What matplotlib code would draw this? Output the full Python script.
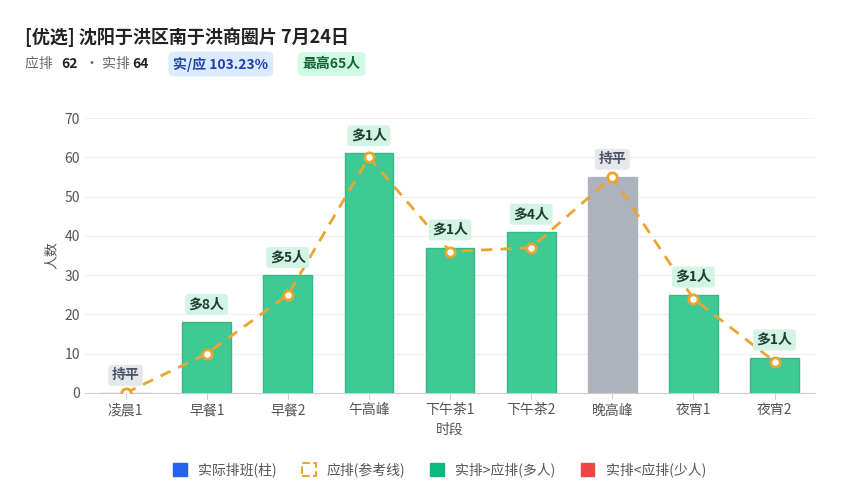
import matplotlib.pyplot as plt
from matplotlib.patches import Patch, FancyBboxPatch

plt.rcParams['font.family'] = ['Noto Sans CJK SC', 'DejaVu Sans']

categories = ['凌晨1', '早餐1', '早餐2', '午高峰', '下午茶1', '下午茶2', '晚高峰', '夜宵1', '夜宵2']
actual = [0, 18, 30, 61, 37, 41, 55, 25, 9]
expected = [0, 10, 25, 60, 36, 37, 55, 24, 8]

GREEN = '#3fc995'
GREY = '#adb3bd'
ORANGE = '#e8a530'

fig = plt.figure(figsize=(8.45, 5), dpi=100)
ax = fig.add_axes([0.1006, 0.214, 0.864, 0.55])

x = list(range(len(categories)))
colors = []
labels = []
for a, e in zip(actual, expected):
    d = a - e
    if d > 0:
        colors.append(GREEN); labels.append(f'多{d}人')
    elif d < 0:
        colors.append('#e84545'); labels.append(f'少{-d}人')
    else:
        colors.append(GREY); labels.append('持平')

bars = ax.bar(x, actual, width=0.6, color=colors, edgecolor=[c if c != GREEN else '#35b886' for c in colors], linewidth=1, zorder=2)
ax.plot(x, expected, color=ORANGE, linestyle=(0, (4, 3)), linewidth=2, zorder=3)
ax.scatter(x, expected, s=45, facecolor='white', edgecolor=ORANGE, linewidth=2, zorder=4)

for xi, a, e, lab in zip(x, actual, expected, labels):
    top = max(a, e)
    flat = lab == '持平'
    ax.text(xi, top + 4.5, lab, ha='center', va='center', fontsize=10, fontweight='bold',
            color='#4b5563' if flat else '#1f3d2f', zorder=5,
            bbox=dict(boxstyle='round,pad=0.25', fc='#e5e7eb' if flat else '#d3f3e4', ec='none'))

ax.set_xlim(-0.5, len(categories) - 0.5)
ax.set_ylim(0, 70)
ax.set_yticks(range(0, 71, 10))
ax.set_xticks(x)
ax.set_xticklabels(categories)
ax.tick_params(colors='#555555', labelsize=10, length=0)
ax.tick_params(axis='x', length=4, color='#cccccc')
ax.grid(axis='y', color='#eeeeee', zorder=0)
for s in ['top', 'right', 'left']:
    ax.spines[s].set_visible(False)
ax.spines['bottom'].set_color('#cccccc')
ax.set_xlabel('时段', color='#555555', fontsize=10)
ax.set_ylabel('人数', color='#555555', fontsize=10)

fig.text(0.03, 0.925, '[优选] 沈阳于洪区南于洪商圈片 7月24日', fontsize=13, fontweight='bold', color='#222222', va='center')
fig.text(0.03, 0.872, '应排 ', fontsize=10, color='#666666', va='center')
fig.text(0.072, 0.872, '62', fontsize=10, fontweight='bold', color='#222222', va='center')
fig.text(0.101, 0.872, '· 实排 ', fontsize=10, color='#666666', va='center')
fig.text(0.156, 0.872, '64', fontsize=10, fontweight='bold', color='#222222', va='center')
fig.text(0.205, 0.872, '实/应 103.23%', fontsize=10, fontweight='bold', color='#1e40af', va='center',
         bbox=dict(boxstyle='round,pad=0.35', fc='#dbeafe', ec='none'))
fig.text(0.358, 0.872, '最高65人', fontsize=10, fontweight='bold', color='#166534', va='center',
         bbox=dict(boxstyle='round,pad=0.35', fc='#d1fae5', ec='none'))

handles = [
    Patch(facecolor='#2563eb', edgecolor='#2563eb', label='实际排班(柱)'),
    Patch(facecolor='white', edgecolor=ORANGE, linestyle='--', linewidth=1.5, label='应排(参考线)'),
    Patch(facecolor='#10b981', edgecolor='#10b981', label='实排>应排(多人)'),
    Patch(facecolor='#ef4444', edgecolor='#ef4444', label='实排<应排(少人)'),
]
fig.legend(handles=handles, loc='center', bbox_to_anchor=(0.52, 0.06), ncol=4, frameon=False,
           fontsize=10, handlelength=1, handleheight=1, columnspacing=1.8, labelcolor='#555555')

fig.savefig('out.png', dpi=100)
